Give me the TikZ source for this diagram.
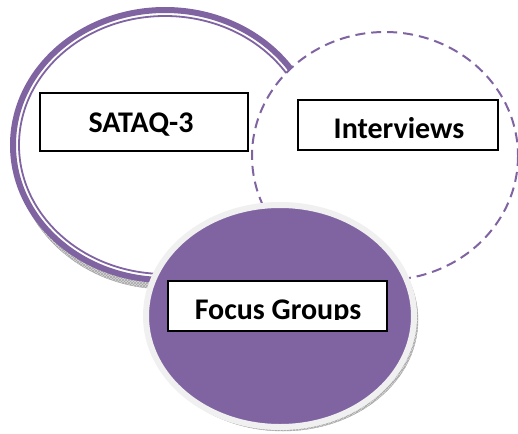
\documentclass[tikz,border=0pt]{standalone}
\usepackage{fontspec}
\setmainfont{Carlito}
\usetikzlibrary{patterns}
\definecolor{vpurple}{HTML}{8064A2}
\definecolor{vband}{HTML}{F0F0F0}
\begin{document}
\begin{tikzpicture}[x=1pt,y=-1pt,
  shadowfill/.style={fill=gray!30,draw=gray!60,line width=0.4pt},
  labelbox/.style={draw=black,fill=white,line width=1.5pt,inner sep=0pt},
  labeltext/.style={font=\fontsize{30}{32}\selectfont\bfseries,inner sep=0pt,text height=19pt,text depth=0pt}]
\useasboundingbox (0,0) rectangle (518,433);
% left ellipse (SATAQ-3)
\path[shadowfill] (165,152) ellipse [x radius=150, y radius=137];
\path[pattern=crosshatch,pattern color=gray!70] (165,152) ellipse [x radius=150, y radius=137];
\path[fill=white,draw=vpurple,line width=6pt] (165,145) ellipse [x radius=152, y radius=135];
\path[draw=vpurple,line width=1.8pt] (165,145) ellipse [x radius=146, y radius=129];
% dashed ellipse (Interviews)
\path[fill=white,draw=vpurple,line width=2pt,dash pattern=on 10pt off 6pt] (385,156) ellipse [x radius=133, y radius=124];
% boxes
\node[labelbox,minimum width=208pt,minimum height=58pt] (boxS) at (144,122) {};
\node[labeltext] (txtS) at (141,123) {SATAQ-3};
\node[labelbox,minimum width=200pt,minimum height=50pt] (boxI) at (398,125) {};
\node[labeltext] (txtI) at (399,129) {Interviews};
% focus ellipse
\path[shadowfill] (283,320) ellipse [x radius=135, y radius=111];
\path[pattern=crosshatch,pattern color=gray!70] (283,320) ellipse [x radius=135, y radius=111];
\path[fill=vpurple,draw=vband,line width=6pt] (280,316) ellipse [x radius=134, y radius=111];
\node[labelbox,minimum width=219pt,minimum height=50pt] (boxF) at (277.5,306) {};
\begin{scope}
\clip (160,270) rectangle (400,319.5);
\node[labeltext] (txtF) at (278,309.5) {Focus Groups};
\end{scope}
\end{tikzpicture}
\end{document}
